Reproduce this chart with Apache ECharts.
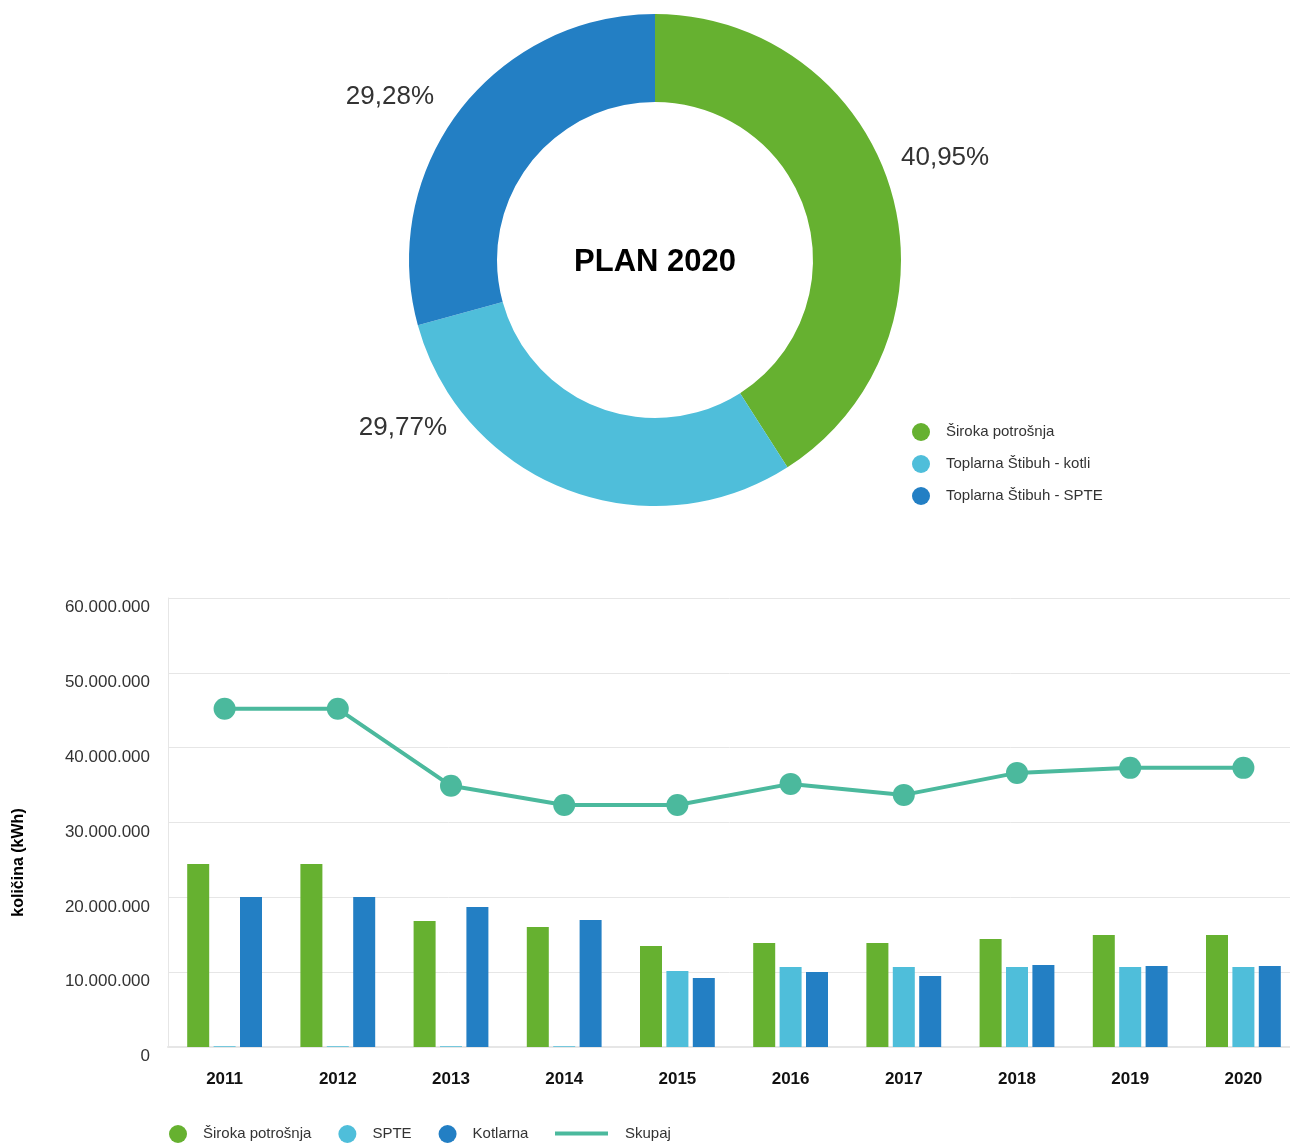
<!DOCTYPE html>
<html>
<head>
<meta charset="utf-8">
<script src="https://cdn.jsdelivr.net/npm/echarts@6/dist/echarts.min.js"></script>
<style>
  html, body { margin: 0; padding: 0; background: #fff; }
  #chart { width: 1290px; height: 1144px; }
</style>
</head>
<body>
<div id="chart"></div>
<script>
// podatki
const pieNames = ["Široka potrošnja", "Toplarna Štibuh - kotli", "Toplarna Štibuh - SPTE"];
const pieShares = [40.95, 29.77, 29.28];

const years = ["2011", "2012", "2013", "2014", "2015", "2016", "2017", "2018", "2019", "2020"];
const sirokaPotrosnja = [24470000, 24470000, 16840000, 16040000, 13500000, 13900000, 13900000, 14440000, 14970000, 14970000];
const spte = [100000, 100000, 100000, 100000, 10160000, 10700000, 10700000, 10700000, 10700000, 10700000];
const kotlarna = [20050000, 20050000, 18700000, 16980000, 9220000, 10030000, 9490000, 10960000, 10830000, 10830000];
const skupaj = [45190000, 45190000, 34900000, 32350000, 32350000, 35160000, 33690000, 36630000, 37300000, 37300000];
const yTicks = { min: 0, max: 60000000, interval: 10000000 };

const colors = ["#66b130", "#4fbeda", "#237fc4"];
const lineColor = "#4bb99d";
const font = "Liberation Sans, Arial, sans-serif";

const fmtNum = (v) => String(v).replace(/\B(?=(\d{3})+(?!\d))/g, ".");

const myChart = echarts.init(document.getElementById("chart"));

const pieCenter = [655, 260];
// odmiki oznak od središča kolobarja
const pieLabelOffset = [
  { dx: 246, dy: -102, align: "left" },
  { dx: -208, dy: 168, align: "right" },
  { dx: -221, dy: -163, align: "right" },
];

const legendText = { fontSize: 15, color: "#333", fontFamily: font, padding: [0, 0, 0, 11] };

const options = {
  textStyle: { fontFamily: font },
  title: {
    text: "PLAN 2020",
    left: pieCenter[0],
    top: pieCenter[1] + 2,
    padding: 0,
    textAlign: "center",
    textVerticalAlign: "middle",
    textStyle: { fontSize: 31, fontWeight: "bold", color: "#000", fontFamily: font },
  },
  legend: [
    {
      data: pieNames,
      orient: "vertical",
      left: 912,
      top: 423,
      padding: 0,
      icon: "circle",
      itemWidth: 18,
      itemHeight: 18,
      itemGap: 14,
      textStyle: legendText,
    },
    {
      data: ["Široka potrošnja", "SPTE", "Kotlarna"],
      orient: "horizontal",
      left: 169,
      top: 1125,
      padding: 0,
      icon: "circle",
      itemWidth: 18,
      itemHeight: 18,
      itemGap: 27,
      textStyle: legendText,
    },
    {
      data: [{ name: "Skupaj", icon: "rect" }],
      left: 555,
      top: 1126,
      padding: 0,
      itemWidth: 53,
      itemHeight: 4,
      textStyle: Object.assign({}, legendText, { padding: [0, 0, 0, 12] }),
    },
  ],
  grid: { left: 168, top: 598, right: -10, bottom: 97, outerBoundsMode: "none" },
  xAxis: {
    type: "category",
    data: years,
    axisLine: { lineStyle: { color: "#e6e6e6", width: 2 } },
    axisTick: { show: false },
    axisLabel: {
      fontSize: 17,
      fontWeight: "bold",
      color: "#111",
      margin: 24,
      fontFamily: font,
    },
  },
  yAxis: {
    type: "value",
    min: yTicks.min,
    max: yTicks.max,
    interval: yTicks.interval,
    name: "količina (kWh)",
    nameLocation: "middle",
    nameRotate: 90,
    nameGap: 141,
    nameTextStyle: {
      fontSize: 16,
      fontWeight: "bold",
      color: "#000",
      fontFamily: font,
      padding: [0, 80, 0, 0],
    },
    axisLine: { show: true, lineStyle: { color: "#e6e6e6" } },
    splitLine: { lineStyle: { color: "#e6e6e6", width: 1 } },
    axisLabel: {
      fontSize: 17,
      color: "#333",
      margin: 18,
      verticalAlign: "top",
      padding: [1, 0, 0, 0],
      fontFamily: font,
      formatter: fmtNum,
    },
  },
  series: [
    {
      type: "pie",
      name: "plan",
      center: pieCenter,
      radius: [158, 246],
      startAngle: 90,
      clockwise: true,
      data: pieNames.map((n, i) => ({ name: n, value: pieShares[i], itemStyle: { color: colors[i] } })),
      label: {
        show: true,
        position: "outside",
        fontSize: 26,
        color: "#333",
        fontFamily: font,
        formatter: (p) => p.value.toFixed(2).replace(".", ",") + "%",
      },
      labelLine: { show: false },
      labelLayout: (p) => {
        const o = pieLabelOffset[p.dataIndex];
        return {
          x: pieCenter[0] + o.dx,
          y: pieCenter[1] + o.dy,
          align: o.align,
          verticalAlign: "middle",
        };
      },
      emphasis: { scale: false },
    },
    {
      type: "bar",
      name: "Široka potrošnja",
      data: sirokaPotrosnja,
      barWidth: 22,
      barGap: "20%",
      itemStyle: { color: colors[0] },
    },
    {
      type: "bar",
      name: "SPTE",
      data: spte,
      barWidth: 22,
      barGap: "20%",
      itemStyle: { color: colors[1] },
    },
    {
      type: "bar",
      name: "Kotlarna",
      data: kotlarna,
      barWidth: 22,
      barGap: "20%",
      itemStyle: { color: colors[2] },
    },
    {
      type: "line",
      name: "Skupaj",
      data: skupaj,
      symbol: "circle",
      symbolSize: 22,
      lineStyle: { color: lineColor, width: 4 },
      itemStyle: { color: lineColor },
      z: 5,
    },
  ],
};

myChart.setOption(options);
</script>
</body>
</html>
